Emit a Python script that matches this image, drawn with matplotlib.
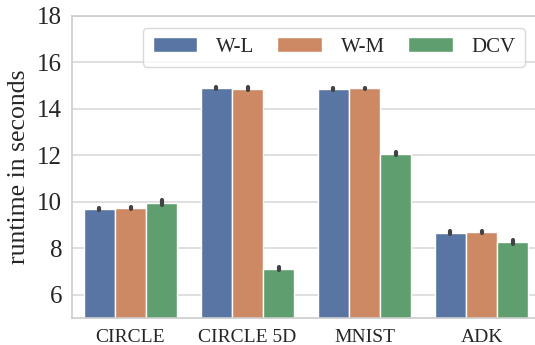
import numpy as np
import matplotlib
matplotlib.use("Agg")
import matplotlib.pyplot as plt

categories = ["CIRCLE", "CIRCLE 5D", "MNIST", "ADK"]
methods = ["W-L", "W-M", "DCV"]
wl = [9.70, 14.90, 14.86, 8.68]
wm = [9.74, 14.87, 14.88, 8.71]
dcv = [9.96, 7.12, 12.08, 8.26]
err_wl = [0.04, 0.06, 0.04, 0.05]
err_wm = [0.05, 0.07, 0.04, 0.04]
err_dcv = [0.10, 0.06, 0.06, 0.08]
colors = ["#5975A4", "#CC8963", "#5F9E6E"]

plt.rcParams['font.family'] = ['Liberation Serif', 'DejaVu Serif']

fig = plt.figure(figsize=(5.35, 3.45), dpi=100)
ax = fig.add_axes([72/535, 1-318/345, 468/535, (318-16)/345])

x = np.arange(len(categories))
width = 0.8 / 3
series = [wl, wm, dcv]
errs = [err_wl, err_wm, err_dcv]
for i, (vals, e, c, m) in enumerate(zip(series, errs, colors, methods)):
    pos = x + (i - 1) * width
    ax.bar(pos, vals, width=width, color=c, edgecolor='white', linewidth=1.0,
           label=m, zorder=2)
    vals = np.array(vals); e = np.array(e)
    ax.vlines(pos, vals - e, vals + e, color='#424242', linewidth=3.0,
              capstyle='round', zorder=3)

ax.set_xlim(-0.5, 3.5)
ax.set_ylim(5, 18)
ax.set_yticks([6, 8, 10, 12, 14, 16, 18])
ax.set_xticks(x)
ax.set_xticklabels(categories, fontsize=14)
ax.tick_params(axis='y', labelsize=18, length=0, pad=7, colors='#262626')
ax.tick_params(axis='x', length=0, pad=8, colors='#262626')
ax.set_ylabel("runtime in seconds", fontsize=18.5, color='#262626', labelpad=5)
ax.yaxis.grid(True, color='#d9d9d9', linewidth=1.2, zorder=0)
ax.set_axisbelow(True)
for s in ax.spines.values():
    s.set_color('#cccccc')
    s.set_linewidth(1.2)

leg = ax.legend(loc='upper right', bbox_to_anchor=(0.968, 0.96), ncol=3,
                fontsize=15, handlelength=2.15, handleheight=0.72,
                handletextpad=0.9, columnspacing=1.1, borderaxespad=0,
                frameon=True, fancybox=True, borderpad=0.45)
leg.get_frame().set_edgecolor('#d0d0d0')
leg.get_frame().set_linewidth(1.0)
for t in leg.get_texts():
    t.set_color('#262626')

fig.savefig("out.png", dpi=100)
